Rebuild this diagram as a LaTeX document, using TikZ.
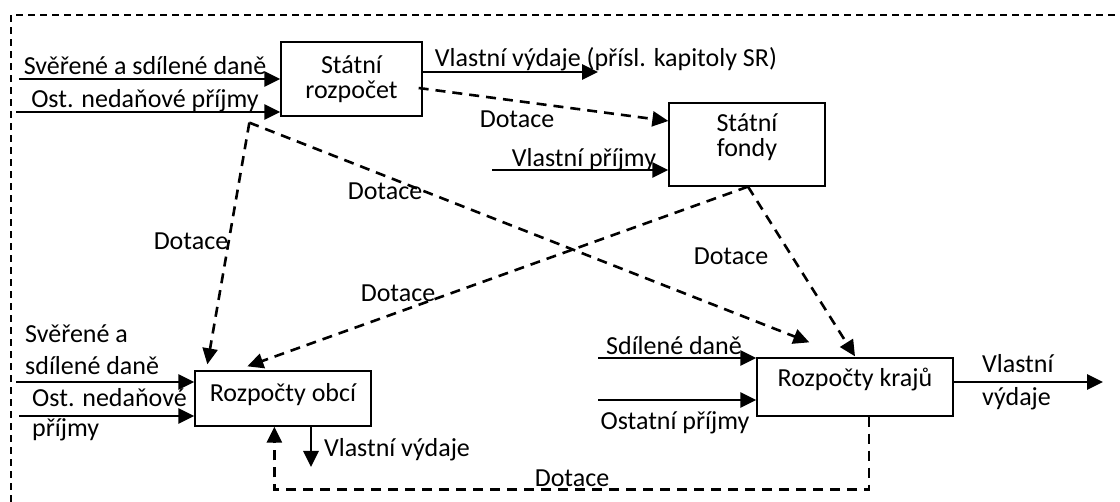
\documentclass[tikz,border=0pt]{standalone}
\usepackage{fontspec}
\setmainfont{Carlito}
\usetikzlibrary{arrows.meta,calc}
\begin{document}
\begin{tikzpicture}[x=1pt,y=-1pt,
  every node/.style={font=\fontsize{26}{25}\selectfont, inner sep=0pt},
  box/.style={draw, line width=1.3pt, rectangle},
  lbl/.style={anchor=base},
  arr/.style={line width=2.8pt, -{Triangle[length=16pt,width=15pt]}},
  darr/.style={line width=2.6pt, dash pattern=on 10pt off 7pt, -{Triangle[length=16pt,width=15pt]}},
  frame/.style={line width=1.3pt, dash pattern=on 7pt off 5pt}]
\useasboundingbox (0,0) rectangle (1120,502);
\draw[frame] (11,502) -- (11,15) -- (1120,15);

% boxes
\node[box, minimum width=141pt, minimum height=74pt, align=center] (SR) at (351.5,79) {Státní\\rozpočet};
\node[box, minimum width=156pt, minimum height=83pt, align=center] (SF) at (747,144.5) {Státní\\fondy\rule[-19pt]{0pt}{0pt}};
\node[box, minimum width=176pt, minimum height=55pt, text height=12pt, text depth=5pt] (OB) at (283,398.5) {Rozpočty obcí};
\node[box, minimum width=196pt, minimum height=58pt, text height=9pt, text depth=9pt] (KR) at (855,387) {Rozpočty krajů};

% solid arrows
\coordinate (a1) at (19,79);   \draw[arr] (a1) -- (a1 -| SR.west);
\coordinate (a2) at (16,112);  \draw[arr] (a2) -- (a2 -| SR.west);
\coordinate (a3) at (598,72);  \draw[arr] (a3 -| SR.east) -- (a3);
\coordinate (a4) at (492,170); \draw[arr] (a4) -- (a4 -| SF.west);
\coordinate (a5) at (16,382);  \draw[arr] (a5) -- (a5 -| OB.west);
\coordinate (a6) at (19,416);  \draw[arr] (a6) -- (a6 -| OB.west);
\coordinate (a7) at (598,358); \draw[arr] (a7) -- (a7 -| KR.west);
\coordinate (a8) at (598,400); \draw[arr] (a8) -- (a8 -| KR.west);
\coordinate (a9) at (1103,382); \draw[arr] (a9 -| KR.east) -- (a9);
\coordinate (a10) at (311,467); \draw[arr] (a10 |- OB.south) -- (a10);

% dashed arrows
\coordinate (srd) at ($(SR.south west)+(-31,6)$);
\coordinate (sfd) at ($(SF.south)+(1,0)$);
\draw[darr] ($(SR.east)+(-4,9)$) -- ($(SF.west)+(0,-23.5)$);
\draw[darr] (srd) -- ($(OB.north west)+(13,-6)$);
\draw[darr] (srd) -- ($(KR.north west)+(53,-15)$);
\draw[darr] (sfd) -- ($(OB.north west)+(53,-4)$);
\draw[darr] (sfd) -- ($(KR.north)+(0,-1)$);
\draw[darr] ($(KR.south)+(14,0)$) -- ++(0,73) -| ($(OB.south west)+(80,0)$);

% labels
\node[lbl] (t1) at (145,75) {Svěřené a sdílené daně};
\node[lbl] (t2) at (145,108) {Ost. nedaňové příjmy};
\node[lbl] (t3) at (606,67) {Vlastní výdaje (přísl. kapitoly SR)};
\node[lbl] (t4) at (517,128) {Dotace};
\node[lbl] (t5) at (584,167) {Vlastní příjmy};
\node[lbl] (t6) at (385,200) {Dotace};
\node[lbl] (t7) at (398,302) {Dotace};
\node[lbl] (t8) at (191,250) {Dotace};
\node[lbl] (t9) at (731,265) {Dotace};
\node[lbl, anchor=base west] (t10) at (25,343) {Svěřené a};
\node[lbl, anchor=base west] (t11) at (25,375) {sdílené daně};
\node[lbl, anchor=base west] (t12) at (32,407) {Ost. nedaňové};
\node[lbl, anchor=base west] (t13) at (32,437) {příjmy};
\node[lbl] (t14) at (397,457) {Vlastní výdaje};
\node[lbl] (t15) at (572,487) {Dotace};
\node[lbl] (t16) at (674,355) {Sdílené daně};
\node[lbl] (t17) at (675,430) {Ostatní příjmy};
\node[lbl, anchor=base west] (t18) at (982,373) {Vlastní};
\node[lbl, anchor=base west] (t19) at (982,406) {výdaje};
\end{tikzpicture}
\end{document}
